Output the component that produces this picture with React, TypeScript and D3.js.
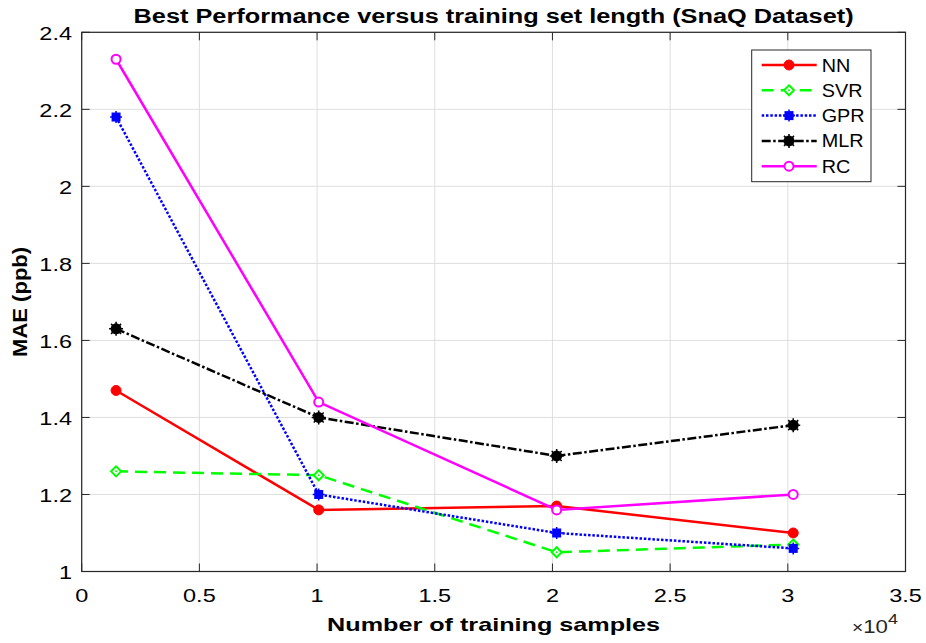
import React from "react";
import * as d3 from "d3";

const samples = [1460, 10070, 20180, 30230];
const nn = [1.47, 1.16, 1.17, 1.10];
const svr = [1.26, 1.25, 1.05, 1.07];
const gpr = [2.18, 1.20, 1.10, 1.06];
const mlr = [1.63, 1.40, 1.30, 1.38];
const rc = [2.33, 1.44, 1.16, 1.20];
const xTicks = [0, 0.5, 1, 1.5, 2, 2.5, 3, 3.5];
const yTicks = [1, 1.2, 1.4, 1.6, 1.8, 2, 2.2, 2.4];

type Series = {
  name: string;
  values: number[];
  color: string;
  dash: string;
  marker: "dot" | "diamond" | "square" | "ring" | "star";
};

const series: Series[] = [
  { name: "NN", values: nn, color: "#ff0000", dash: "", marker: "dot" },
  { name: "SVR", values: svr, color: "#00ff00", dash: "12,7", marker: "diamond" },
  { name: "GPR", values: gpr, color: "#0000ff", dash: "2.5,1.8", marker: "square" },
  { name: "MLR", values: mlr, color: "#000000", dash: "9,2.5,2.5,2.5", marker: "star" },
  { name: "RC", values: rc, color: "#ff00ff", dash: "", marker: "ring" },
];

const W = 926;
const H = 643;
const left = 81.7;
const right = 905.5;
const top = 32.3;
const bottom = 571.5;
const font = "Liberation Sans, Arial, sans-serif";
const stretch = 1.27;

function Marker({ s, cx, cy }: { s: Series; cx: number; cy: number }) {
  if (s.marker === "dot")
    return <circle cx={cx} cy={cy} r={5} fill={s.color} stroke={s.color} strokeWidth={1} />;
  if (s.marker === "star")
    return (
      <g>
        <circle cx={cx} cy={cy} r={5.5} fill={s.color} />
        <path
          d={`M${cx - 7},${cy}H${cx + 7}M${cx},${cy - 7}V${cy + 7}M${cx - 5},${cy - 5}L${cx + 5},${cy + 5}M${cx - 5},${cy + 5}L${cx + 5},${cy - 5}`}
          stroke={s.color}
          strokeWidth={1.5}
        />
      </g>
    );
  if (s.marker === "ring")
    return <circle cx={cx} cy={cy} r={4.5} fill="#fff" stroke={s.color} strokeWidth={2} />;
  if (s.marker === "square")
    return (
      <g>
        <rect x={cx - 4.5} y={cy - 4.5} width={9} height={9} fill={s.color} />
        <path
          d={`M${cx - 6},${cy}H${cx + 6}M${cx},${cy - 6}V${cy + 6}`}
          stroke={s.color}
          strokeWidth={1.5}
        />
      </g>
    );
  const r = 5;
  return (
    <g>
      <path
        d={`M${cx},${cy - r}L${cx + r},${cy}L${cx},${cy + r}L${cx - r},${cy}Z`}
        fill="#fff"
        stroke={s.color}
        strokeWidth={2}
      />
      <circle cx={cx} cy={cy} r={1} fill={s.color} />
    </g>
  );
}

function Label({
  x,
  y,
  size,
  anchor,
  sx,
  children,
  fill = "#000",
}: {
  x: number;
  y: number;
  size: number;
  anchor: "start" | "middle" | "end";
  sx: number;
  children: React.ReactNode;
  fill?: string;
}) {
  return (
    <text
      transform={`translate(${x},${y}) scale(${sx},1)`}
      textAnchor={anchor}
      fontFamily={font}
      fontSize={size}
      fill={fill}
    >
      {children}
    </text>
  );
}

export default function App() {
  const x = d3.scaleLinear().domain([0, 3.5]).range([left, right]);
  const y = d3.scaleLinear().domain([1, 2.4]).range([bottom, top]);
  const line = d3
    .line<[number, number]>()
    .x((d) => x(d[0] / 1e4))
    .y((d) => y(d[1]));

  const lx = 751.7;
  const ly = 50;
  const lw = 119.3;
  const lh = 131.7;
  const rowH = 25.3;

  return (
    <svg width={W} height={H} style={{ position: "absolute", left: 0, top: 0, background: "#fff" }}>
      <rect width={W} height={H} fill="#fff" />
      {/* grid */}
      {xTicks.map((t) => (
        <line key={"gx" + t} x1={x(t)} x2={x(t)} y1={top} y2={bottom} stroke="#dfdfdf" strokeWidth={1} />
      ))}
      {yTicks.map((t) => (
        <line key={"gy" + t} x1={left} x2={right} y1={y(t)} y2={y(t)} stroke="#dfdfdf" strokeWidth={1} />
      ))}
      {/* tick marks on all four sides */}
      {xTicks.map((t) => (
        <g key={"tx" + t} stroke="#262626" strokeWidth={1}>
          <line x1={x(t)} x2={x(t)} y1={bottom} y2={bottom - 8} />
          <line x1={x(t)} x2={x(t)} y1={top} y2={top + 8} />
        </g>
      ))}
      {yTicks.map((t) => (
        <g key={"ty" + t} stroke="#262626" strokeWidth={1}>
          <line x1={left} x2={left + 8} y1={y(t)} y2={y(t)} />
          <line x1={right} x2={right - 8} y1={y(t)} y2={y(t)} />
        </g>
      ))}
      <rect x={left} y={top} width={right - left} height={bottom - top} fill="none" stroke="#262626" strokeWidth={1.2} />

      {/* tick labels */}
      {xTicks.map((t) => (
        <Label key={"lx" + t} x={x(t)} y={601.5} size={18.5} anchor="middle" sx={stretch}>
          {t}
        </Label>
      ))}
      {yTicks.map((t) => (
        <Label key={"ly" + t} x={72} y={y(t) + 7.5} size={18.5} anchor="end" sx={stretch}>
          {t}
        </Label>
      ))}
      <text transform={`translate(852,633) scale(1.2,1)`} fontFamily={font} fontSize={18.5} fill="#262626">
        <tspan fontSize={16}>×</tspan>10<tspan dy={-9} fontSize={15}>4</tspan>
      </text>

      {/* series */}
      {series.map((s) => {
        const pts = samples.map((v, i) => [v, s.values[i]] as [number, number]);
        return (
          <g key={s.name}>
            <path d={line(pts) || ""} fill="none" stroke={s.color} strokeWidth={2.5} strokeDasharray={s.dash} />
            {pts.map((p, i) => (
              <Marker key={i} s={s} cx={x(p[0] / 1e4)} cy={y(p[1])} />
            ))}
          </g>
        );
      })}

      {/* legend */}
      <rect x={lx} y={ly} width={lw} height={lh} fill="#fff" stroke="#262626" strokeWidth={1} />
      {series.map((s, i) => {
        const cy = ly + 15 + i * rowH;
        return (
          <g key={"lg" + s.name}>
            <line x1={lx + 10} x2={lx + 65} y1={cy} y2={cy} stroke={s.color} strokeWidth={2.5} strokeDasharray={s.dash} />
            <Marker s={s} cx={lx + 37.3} cy={cy} />
            <Label x={lx + 70} y={cy + 6.5} size={17.7} anchor="start" sx={1.12}>
              {s.name}
            </Label>
          </g>
        );
      })}

      {/* titles */}
      <text
        x={(left + right) / 2}
        y={22.7}
        textAnchor="middle"
        fontFamily={font}
        fontSize={20}
        fontWeight="bold"
        fill="#000"
        textLength={720}
        lengthAdjust="spacingAndGlyphs"
      >
        Best Performance versus training set length (SnaQ Dataset)
      </text>
      <text
        x={(left + right) / 2}
        y={631}
        textAnchor="middle"
        fontFamily={font}
        fontSize={19}
        fontWeight="bold"
        fill="#000"
        textLength={333}
        lengthAdjust="spacingAndGlyphs"
      >
        Number of training samples
      </text>
      <text
        transform={`translate(26.7,${(top + bottom) / 2}) rotate(-90)`}
        textAnchor="middle"
        fontFamily={font}
        fontSize={21}
        fontWeight="bold"
        fill="#000"
        textLength={110}
        lengthAdjust="spacingAndGlyphs"
      >
        MAE (ppb)
      </text>
    </svg>
  );
}
